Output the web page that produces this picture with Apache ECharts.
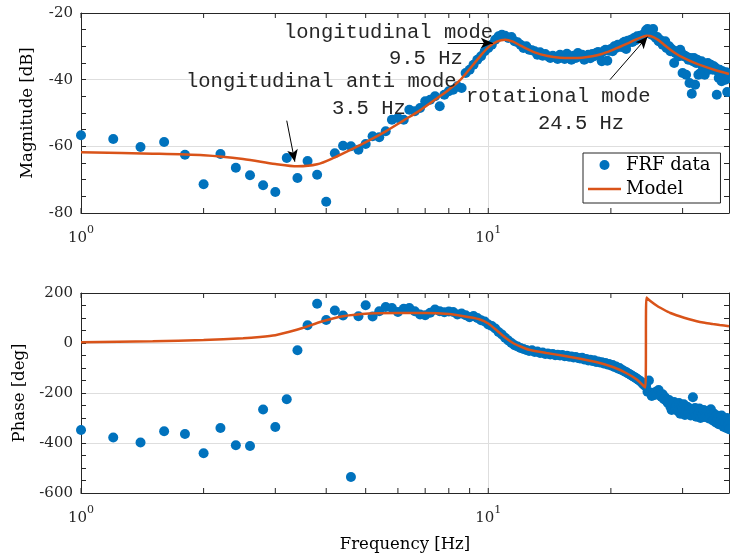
<!DOCTYPE html>
<html><head><meta charset="utf-8">
<script src="https://cdn.jsdelivr.net/npm/echarts@6.0.0/dist/echarts.min.js"></script>
<style>html,body{margin:0;padding:0;background:#fff}#c{width:730px;height:559px}</style>
</head><body><div id="c"></div>
<script>
// measured frequencies [Hz]
const freq = [
1.0,1.2,1.4,1.6,1.8,2.0,2.2,2.4,2.6,2.8,
3.0,3.2,3.4,3.6,3.8,4.0,4.2,4.4,4.6,4.8,
5.0,5.2,5.4,5.6,5.8,6.0,6.2,6.4,6.6,6.8,
7.0,7.2,7.4,7.6,7.8,8.0,8.2,8.4,8.6,8.8,
9.0,9.2,9.4,9.6,9.8,10.0,10.2,10.4,10.6,10.8,
11.0,11.2,11.4,11.6,11.8,12.0,12.2,12.4,12.6,12.8,
13.0,13.2,13.4,13.6,13.8,14.0,14.2,14.4,14.6,14.8,
15.0,15.2,15.4,15.6,15.8,16.0,16.2,16.4,16.6,16.8,
17.0,17.2,17.4,17.6,17.8,18.0,18.2,18.4,18.6,18.8,
19.0,19.2,19.4,19.6,19.8,20.0,20.2,20.4,20.6,20.8,
21.0,21.2,21.4,21.6,21.8,22.0,22.2,22.4,22.6,22.8,
23.0,23.2,23.4,23.6,23.8,24.0,24.2,24.4,24.6,24.8,
25.0,25.2,25.4,25.6,25.8,26.0,26.2,26.4,26.6,26.8,
27.0,27.2,27.4,27.6,27.8,28.0,28.2,28.4,28.6,28.8,
29.0,29.2,29.4,29.6,29.8,30.0,30.2,30.4,30.6,30.8,
31.0,31.2,31.4,31.6,31.8,32.0,32.2,32.4,32.6,32.8,
33.0,33.2,33.4,33.6,33.8,34.0,34.2,34.4,34.6,34.8,
35.0,35.2,35.4,35.6,35.8,36.0,36.2,36.4,36.6,36.8,
37.0,37.2,37.4,37.6,37.8,38.0,38.2,38.4,38.6,38.8,
39.0];
// FRF magnitude [dB]
const frfMag = [
-56.7,-57.8,-60.2,-58.7,-62.5,-71.4,-62.3,-66.4,-68.7,-71.7,
-73.7,-63.5,-69.5,-64.4,-68.5,-76.6,-62.1,-59.8,-60.0,-61.0,
-59.3,-57.0,-57.3,-55.5,-52.0,-51.5,-52.0,-49.0,-49.5,-48.5,
-46.5,-46.0,-45.0,-48.0,-44.5,-43.5,-43.0,-42.0,-42.5,-38.0,
-37.0,-35.5,-34.0,-33.0,-31.5,-30.5,-29.5,-28.0,-27.0,-26.5,
-26.8,-27.5,-27.2,-28.5,-28.8,-29.5,-30.5,-30.0,-31.0,-31.2,
-31.5,-32.5,-31.8,-32.8,-32.3,-33.0,-33.5,-32.8,-33.2,-33.8,
-32.5,-33.0,-33.8,-32.2,-33.3,-34.0,-32.8,-33.5,-32.0,-33.0,
-32.5,-34.0,-33.0,-32.5,-33.6,-32.3,-33.0,-32.0,-31.7,-32.5,
-34.5,-31.5,-31.0,-34.3,-31.3,-30.8,-31.5,-30.0,-30.5,-29.5,
-29.8,-30.2,-29.0,-28.6,-30.8,-28.3,-28.8,-28.0,-28.7,-27.5,
-28.2,-27.0,-27.5,-26.8,-27.3,-26.5,-26.2,-25.2,-24.8,-25.8,
-25.0,-26.5,-24.8,-27.0,-27.5,-27.2,-28.5,-28.0,-28.8,-29.5,
-29.2,-28.5,-30.5,-30.0,-30.0,-31.5,-30.8,-31.3,-35.0,-32.0,
-31.5,-32.5,-33.0,-31.0,-32.0,-38.0,-33.0,-32.8,-38.5,-33.3,
-34.0,-41.0,-33.5,-44.2,-34.5,-33.5,-41.5,-35.0,-34.0,-38.5,
-35.0,-38.0,-34.5,-36.0,-35.3,-38.5,-35.5,-36.5,-35.0,-37.0,
-36.0,-35.5,-36.5,-37.0,-36.0,-36.8,-36.5,-44.5,-37.5,-39.5,
-37.0,-38.0,-40.5,-37.5,-38.5,-39.0,-40.0,-37.8,-43.7,-38.5,
-39.5];
// FRF phase [deg]
const frfPhase = [
-348,-378,-398,-353,-364,-441,-340,-409,-412,-266,
-336,-225,-29,71,157,92,130,110,-536,107,
151,106,127,144,140,124,137,140,127,114,
111,121,134,127,123,126,124,114,118,111,
103,108,100,91,86,74,68,58,44,34,
21,10,0,-9,-14,-20,-24,-28,-32,-29,
-36,-34,-40,-38,-44,-42,-46,-44,-49,-47,
-50,-48,-53,-51,-55,-54,-58,-56,-60,-62,
-59,-66,-64,-70,-67,-72,-69,-76,-74,-78,
-77,-82,-80,-86,-84,-90,-88,-96,-94,-102,
-100,-107,-109,-114,-116,-121,-124,-128,-132,-136,
-139,-144,-148,-152,-158,-164,-170,-172,-195,-150,
-198,-212,-200,-208,-195,-203,-188,-210,-215,-205,
-225,-218,-232,-240,-228,-255,-268,-245,-236,-262,
-250,-272,-240,-283,-258,-265,-245,-288,-270,-255,
-278,-262,-290,-268,-217,-275,-260,-295,-270,-282,
-262,-300,-276,-288,-268,-296,-280,-290,-272,-302,
-285,-265,-295,-310,-282,-298,-318,-290,-305,-325,
-298,-312,-290,-320,-335,-305,-322,-340,-300,-330,
-345];
// Model magnitude
const modelMagFreq = [1,1.5,2,2.5,3,3.4,3.8,4.2,4.6,5.1,5.6,6.2,6.8,7.5,8,8.5,9,9.5,10,10.5,11,11.5,12,13,14,15,16,17,18,19,20,21,22,23,24,24.5,25,26,27,28,29,30,32,34,36,38,39];
const modelMag = [-61.8,-62.2,-62.7,-63.8,-65.3,-66.0,-65.4,-63.3,-61.0,-58.2,-55.5,-52.2,-49.2,-45.5,-43.0,-40.3,-36.8,-33.3,-30.3,-28.6,-28.0,-28.6,-29.8,-31.8,-32.9,-33.4,-33.5,-33.4,-33.0,-32.3,-31.3,-30.2,-29.1,-28.0,-27.1,-26.8,-26.9,-27.9,-29.5,-31.0,-32.3,-33.3,-34.9,-36.1,-37.1,-37.9,-38.3];
// Model phase
const modelPhaseFreq = [1,1.5,2,2.5,2.75,3,3.25,3.5,3.9,4.4,5.1,6,7,8,9,9.5,10,10.5,11,11.5,12,12.6,13.9,15.3,16.8,18.5,20.3,21.8,23.2,24.3,24.45,25,26,27,28,29.5,31,32.5,34,35.6,37,39];
const modelPhase = [3,7,12,19,24,31,45,60,86,107,118,120,120,116,103,95,78,50,22,0,-14,-27,-40,-51,-63,-77,-97,-120,-147,-178,182,168,148,133,120,107,96,87,81,76,72,67];

const xTickValues = [1,2,3,4,5,6,7,8,9,10,20,30];
const xLabelValues = [1,10];
const xGridValues = [10];
const magRange = [-80, -20];
const phaseRange = [-600, 200];

const SERIF = 'DejaVu Serif';
const INK = '#262626';
const GRIDC = '#dedede';
const BLUE = '#0072BD';
const ORANGE = '#D95319';

const zip = (a, b) => a.map((v, i) => [v, b[i]]);

function xAx(gridIndex, pos, labels, name) {
  return {
    type: 'log', logBase: 10, gridIndex, position: pos, min: 1, max: 39,
    axisLine: {show: true, onZero: false, lineStyle: {color: INK, width: 1}},
    axisTick: {show: false},
    splitLine: {show: false},
    axisLabel: labels ? {
      show: true, customValues: xLabelValues, margin: 17,
      formatter: v => '{b|10}{s|' + Math.round(Math.log10(v)) + '}',
      rich: {
        b: {fontFamily: SERIF, fontSize: 15, color: INK, lineHeight: 16, verticalAlign: 'bottom'},
        s: {fontFamily: SERIF, fontSize: 11, color: INK, lineHeight: 11, padding: [0, 0, 10, 0], verticalAlign: 'bottom'}
      }
    } : {show: false},
    name: name || '', nameLocation: 'middle', nameGap: 43,
    nameTextStyle: {fontFamily: SERIF, fontSize: 16.5, color: '#000'}
  };
}
function yAx(gridIndex, pos, range, interval, labels, name) {
  return {
    type: 'value', gridIndex, position: pos, min: range[0], max: range[1], interval,
    axisLine: {show: true, onZero: false, lineStyle: {color: INK, width: 1}},
    axisTick: {show: true, inside: true, length: 5, lineStyle: {color: INK}},
    minorTick: {show: true, splitNumber: 4, length: 5, lineStyle: {color: INK}},
    splitLine: {show: labels, lineStyle: {color: GRIDC, width: 1}},
    axisLabel: labels ? {show: true, margin: 8, fontFamily: SERIF, fontSize: 15, color: INK} : {show: false},
    name: name || '', nameLocation: 'middle', nameGap: 45,
    nameTextStyle: {fontFamily: SERIF, fontSize: 16.5, color: '#000'}
  };
}

// inward x ticks (log minor ticks) drawn through the axes' own scales
function tickSeries(xi, yi, range) {
  return {
    type: 'custom', xAxisIndex: xi, yAxisIndex: yi, silent: true, z: 4, clip: false,
    data: xTickValues.map(v => [v]),
    encode: {x: 0},
    renderItem: (params, api) => {
      const f = api.value(0);
      const b = api.coord([f, range[0]]);
      const t = api.coord([f, range[1]]);
      const st = {stroke: INK, lineWidth: 1};
      return {type: 'group', children: [
        {type: 'line', shape: {x1: b[0], y1: b[1], x2: b[0], y2: b[1] - 5}, style: st},
        {type: 'line', shape: {x1: t[0], y1: t[1], x2: t[0], y2: t[1] + 5}, style: st}
      ]};
    }
  };
}

const arrowStyle = {
  silent: true, z: 6, symbol: ['none', 'arrow'], symbolSize: [8, 12],
  label: {show: false}, lineStyle: {color: '#000', width: 1, type: 'solid'},
  emphasis: {disabled: true},
  data: [
    [{coord: [3.2, -52.3]}, {coord: [3.35, -64.6]}],
    [{coord: [7.95, -29.0]}, {coord: [10.26, -29.0]}],
    [{coord: [19.9, -40.0]}, {coord: [24.6, -27.1]}]
  ]
};
const gridMark = {
  silent: true, z: 1, symbol: 'none', label: {show: false},
  lineStyle: {color: GRIDC, width: 1, type: 'solid'}, emphasis: {disabled: true},
  data: xGridValues.map(v => ({xAxis: v}))
};

const chart = echarts.init(document.getElementById('c'), null, {renderer: 'canvas'});
chart.setOption({
  animation: false,
  backgroundColor: '#fff',
  grid: [
    {left: 81, top: 13, width: 648, height: 200},
    {left: 81, top: 293, width: 648, height: 200}
  ],
  xAxis: [
    xAx(0, 'bottom', true),
    xAx(0, 'top', false),
    xAx(1, 'bottom', true, 'Frequency [Hz]'),
    xAx(1, 'top', false)
  ],
  yAxis: [
    yAx(0, 'left', magRange, 20, true, 'Magnitude [dB]'),
    yAx(0, 'right', magRange, 20, false),
    yAx(1, 'left', phaseRange, 200, true, 'Phase [deg]'),
    yAx(1, 'right', phaseRange, 200, false)
  ],
  legend: {
    data: [{name: 'FRF data', icon: 'circle'}, {name: 'Model', icon: 'path://M0,0 H40 V3 H0 Z'}],
    orient: 'vertical', left: 583, top: 153,
    padding: [3, 10, 5, 5], itemGap: 6, itemWidth: 33, itemHeight: 10,
    borderColor: INK, borderWidth: 1, borderRadius: 0, backgroundColor: '#fff',
    textStyle: {fontFamily: SERIF, fontSize: 18, color: '#000'},
    selectedMode: false
  },
  series: [
    {type: 'line', xAxisIndex: 0, yAxisIndex: 0, data: [], silent: true, z: 0, markLine: gridMark},
    {type: 'line', xAxisIndex: 2, yAxisIndex: 2, data: [], silent: true, z: 0, markLine: gridMark},
    tickSeries(0, 0, magRange),
    tickSeries(2, 2, phaseRange),
    {name: 'FRF data', type: 'scatter', xAxisIndex: 0, yAxisIndex: 0, data: zip(freq, frfMag),
     symbol: 'circle', symbolSize: 10, itemStyle: {color: BLUE, opacity: 1}, z: 2},
    {name: 'Model', type: 'line', xAxisIndex: 0, yAxisIndex: 0, data: zip(modelMagFreq, modelMag),
     symbol: 'none', smooth: 0.3, lineStyle: {color: ORANGE, width: 2.5}, itemStyle: {color: ORANGE}, z: 3,
     markLine: arrowStyle},
    {name: 'FRF data', type: 'scatter', xAxisIndex: 2, yAxisIndex: 2, data: zip(freq, frfPhase),
     symbol: 'circle', symbolSize: 10, itemStyle: {color: BLUE, opacity: 1}, z: 2},
    {name: 'Model', type: 'line', xAxisIndex: 2, yAxisIndex: 2, data: zip(modelPhaseFreq, modelPhase),
     symbol: 'none', smooth: 0.2, lineStyle: {color: ORANGE, width: 2.5}, itemStyle: {color: ORANGE}, z: 3}
  ],
  graphic: [
    {type: 'text', z: 100, style: {text: 'longitudinal mode', x: 284, y: 33, font: '20.5px "Liberation Mono"', fill: INK, align: 'left', verticalAlign: 'middle'}},
    {type: 'text', z: 100, style: {text: '9.5 Hz', x: 389, y: 59, font: '20.5px "Liberation Mono"', fill: INK, align: 'left', verticalAlign: 'middle'}},
    {type: 'text', z: 100, style: {text: 'longitudinal anti mode', x: 186, y: 81.5, font: '20.5px "Liberation Mono"', fill: INK, align: 'left', verticalAlign: 'middle'}},
    {type: 'text', z: 100, style: {text: '3.5 Hz', x: 332, y: 109, font: '20.5px "Liberation Mono"', fill: INK, align: 'left', verticalAlign: 'middle'}},
    {type: 'text', z: 100, style: {text: 'rotational mode', x: 466, y: 97, font: '20.5px "Liberation Mono"', fill: INK, align: 'left', verticalAlign: 'middle'}},
    {type: 'text', z: 100, style: {text: '24.5 Hz', x: 538, y: 124, font: '20.5px "Liberation Mono"', fill: INK, align: 'left', verticalAlign: 'middle'}}
  ]
});
</script>
</body></html>
